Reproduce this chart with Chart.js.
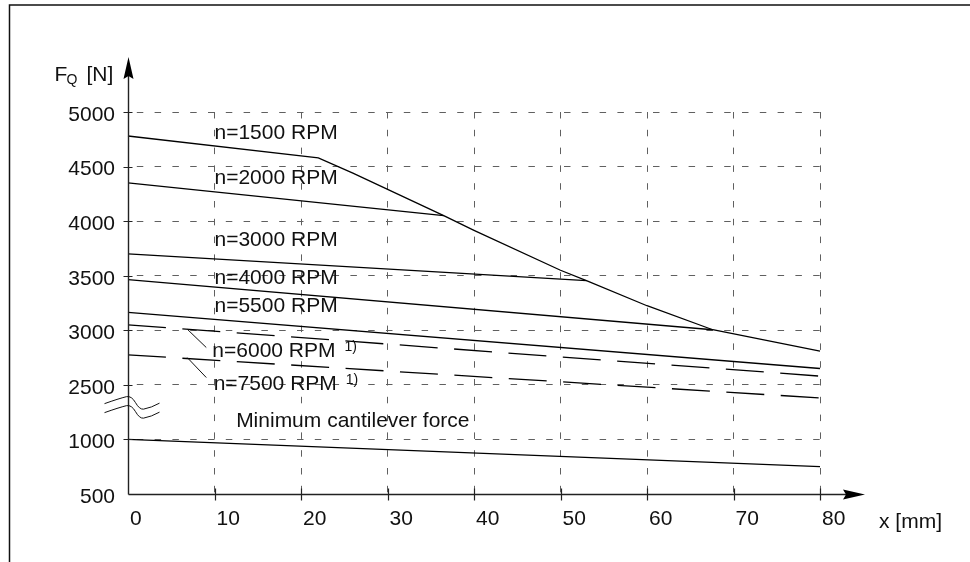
<!DOCTYPE html>
<html>
<head>
<meta charset="utf-8">
<script src="https://cdn.jsdelivr.net/npm/chart.js@4.4.1/dist/chart.umd.min.js"></script>
<style>
  html, body { margin: 0; padding: 0; background: #fff; }
  canvas { display: block; }
</style>
</head>
<body>
<canvas id="force" width="970" height="562"></canvas>
<script>
// axis ticks; the force axis is broken between 1000 and 2500
const xTicks = [0, 10, 20, 30, 40, 50, 60, 70, 80];
const lowTicks = [500, 1000];
const highTicks = [2500, 3000, 3500, 4000, 4500, 5000];

// curves as [x in mm, F_Q in N]
const n1500 = [[0, 4780], [22, 4580], [26, 4440], [36.5, 4050], [40, 3915], [50, 3550], [53, 3455], [60, 3225], [67.6, 3005], [80, 2810]];
const n2000 = [[0, 4350], [36.5, 4050]];
const n3000 = [[0, 3700], [53, 3455]];
const n4000 = [[0, 3465], [67.6, 3005]];
const n5500 = [[0, 3165], [80, 2650]];
const n6000 = [[0, 3050], [80, 2580]];
const n7500 = [[0, 2775], [80, 2380]];
const minForce = [[0, 1000], [80, 750]];

const curveNames = ['n=1500 RPM', 'n=2000 RPM', 'n=3000 RPM', 'n=4000 RPM', 'n=5500 RPM', 'n=6000 RPM', 'n=7500 RPM'];
const footnote = '1)';

const FONT = '"Liberation Sans", Arial, Helvetica, sans-serif';
const SIZE = 21;
const STEP = 500;
const yLabels = lowTicks.concat(highTicks);

// map a force onto the broken axis (one tick step per 500 N on both sides of the break)
function yPos(f) {
  if (f <= lowTicks[lowTicks.length - 1]) return (f - lowTicks[0]) / STEP;
  return lowTicks.length + (f - highTicks[0]) / STEP;
}

function series(label, points, dashed) {
  return {
    label,
    data: points.map(([x, f]) => ({ x, y: yPos(f) })),
    borderColor: '#000',
    borderWidth: 1.3,
    borderDash: dashed ? [38, 16.5] : [],
    pointRadius: 0,
    tension: 0,
    fill: false,
    clip: false
  };
}

const decor = {
  id: 'decor',
  afterDraw(chart) {
    const { ctx, chartArea: a, scales: { x, y } } = chart;
    const px = v => x.getPixelForValue(v);
    const py = f => y.getPixelForValue(yPos(f));
    ctx.save();

    // page frame
    ctx.strokeStyle = '#111';
    ctx.lineWidth = 1.5;
    ctx.beginPath();
    ctx.moveTo(970, 5);
    ctx.lineTo(9.5, 5);
    ctx.lineTo(9.5, 562);
    ctx.stroke();

    // axes with arrows
    const x0 = Math.round(a.left) + 0.5;
    const y0 = Math.round(a.bottom) + 0.5;
    ctx.strokeStyle = '#222';
    ctx.fillStyle = '#000';
    ctx.lineWidth = 1.4;
    ctx.beginPath();
    ctx.moveTo(x0, y0);
    ctx.lineTo(x0, 70);
    ctx.moveTo(x0, y0);
    ctx.lineTo(a.right + 35, y0);
    ctx.stroke();

    ctx.beginPath();
    ctx.moveTo(x0, 57);
    ctx.lineTo(x0 - 5, 79);
    ctx.lineTo(x0, 76);
    ctx.lineTo(x0 + 5, 79);
    ctx.closePath();
    ctx.fill();
    const tipX = a.right + 45;
    ctx.beginPath();
    ctx.moveTo(tipX, y0);
    ctx.lineTo(tipX - 22, y0 - 5);
    ctx.lineTo(tipX - 19, y0);
    ctx.lineTo(tipX - 22, y0 + 5);
    ctx.closePath();
    ctx.fill();

    // tick marks crossing the axes
    ctx.lineWidth = 1.2;
    ctx.beginPath();
    xTicks.slice(1).forEach(t => {
      const xt = Math.round(px(t)) + 0.5;
      ctx.moveTo(xt, y0 - 6);
      ctx.lineTo(xt, y0 + 6);
    });
    yLabels.slice(1).forEach(t => {
      const yt = Math.round(py(t)) + 0.5;
      ctx.moveTo(x0 - 5, yt);
      ctx.lineTo(x0 + 4, yt);
    });
    ctx.stroke();

    // break marks on the force axis
    const ym = (py(lowTicks[1]) + py(highTicks[0])) / 2;
    ctx.lineWidth = 1;
    ctx.strokeStyle = '#111';
    [-8.5, 0.5].forEach(d => {
      const b = ym + d;
      ctx.beginPath();
      ctx.moveTo(x0 - 24, b);
      ctx.quadraticCurveTo(x0 - 10, b - 5, x0 - 2, b - 7);
      ctx.quadraticCurveTo(x0 + 3, b - 8, x0 + 7, b - 1);
      ctx.quadraticCurveTo(x0 + 11, b + 6, x0 + 15, b + 5.5);
      ctx.quadraticCurveTo(x0 + 23, b + 4, x0 + 31, b - 0.5);
      ctx.stroke();
    });

    // axis titles
    ctx.fillStyle = '#111';
    ctx.textBaseline = 'alphabetic';
    ctx.textAlign = 'left';
    ctx.font = SIZE + 'px ' + FONT;
    ctx.fillText('F', x0 - 74, 81);
    ctx.fillText('[N]', x0 - 42, 81);
    ctx.font = '14px ' + FONT;
    ctx.fillText('Q', x0 - 62, 84);
    ctx.font = SIZE + 'px ' + FONT;
    ctx.fillText('x [mm]', a.right + 59, y0 + 33);

    // curve labels, baseline given as a force on the axis
    const spots = [[10, 4750], [10, 4340], [10, 3775], [10, 3425], [10, 3165], [9.75, 2757], [9.9, 2452]];
    curveNames.forEach((name, i) => {
      const [lx, lf] = spots[i];
      const tx = px(lx);
      const ty = py(lf);
      ctx.font = SIZE + 'px ' + FONT;
      ctx.fillText(name, tx, ty);
      if (i >= 5) {
        const w = ctx.measureText(name).width;
        ctx.font = '14px ' + FONT;
        ctx.fillText(footnote, tx + w + 9, ty - 6);
      }
    });
    ctx.font = SIZE + 'px ' + FONT;
    ctx.fillText('Minimum cantilever force', px(12.5), py(1000) - 12);

    // leader lines to the dashed curves
    ctx.lineWidth = 1;
    ctx.beginPath();
    [[6.85, 3010, 9.05, 2842], [6.85, 2750, 9.05, 2567]].forEach(([x1, f1, x2, f2]) => {
      ctx.moveTo(px(x1), py(f1));
      ctx.lineTo(px(x2), py(f2));
    });
    ctx.stroke();

    ctx.restore();
  }
};

new Chart(document.getElementById('force'), {
  type: 'line',
  data: {
    datasets: [
      series(curveNames[0], n1500),
      series(curveNames[1], n2000),
      series(curveNames[2], n3000),
      series(curveNames[3], n4000),
      series(curveNames[4], n5500),
      series(curveNames[5], n6000, true),
      series(curveNames[6], n7500, true),
      series('Minimum cantilever force', minForce)
    ]
  },
  options: {
    responsive: false,
    animation: false,
    events: [],
    layout: { padding: { left: 0, top: 112, right: 150, bottom: 0 } },
    plugins: { legend: { display: false }, tooltip: { enabled: false } },
    scales: {
      x: {
        type: 'linear',
        min: xTicks[0],
        max: xTicks[xTicks.length - 1],
        afterBuildTicks: s => { s.ticks = xTicks.map(v => ({ value: v })); },
        ticks: { color: '#111', font: { family: FONT, size: SIZE }, padding: 13, align: 'start', labelOffset: 2 },
        grid: { color: '#606060', lineWidth: 1, drawTicks: false },
        border: { display: false, dash: [6.5, 11.3] },
        afterFit: s => { s.height = 68; s.paddingLeft = 0; s.paddingRight = 0; }
      },
      y: {
        type: 'linear',
        min: 0,
        max: yLabels.length - 1,
        afterBuildTicks: s => { s.ticks = yLabels.map((v, i) => ({ value: i })); },
        ticks: { color: '#111', font: { family: FONT, size: SIZE }, padding: 13, labelOffset: 3, callback: v => yLabels[v] },
        grid: { color: '#606060', lineWidth: 1, drawTicks: false },
        border: { display: false, dash: [6.5, 11.3], dashOffset: 9 },
        afterFit: s => { s.width = 128; s.paddingTop = 0; s.paddingBottom = 0; }
      }
    }
  },
  plugins: [decor]
});
</script>
</body>
</html>
